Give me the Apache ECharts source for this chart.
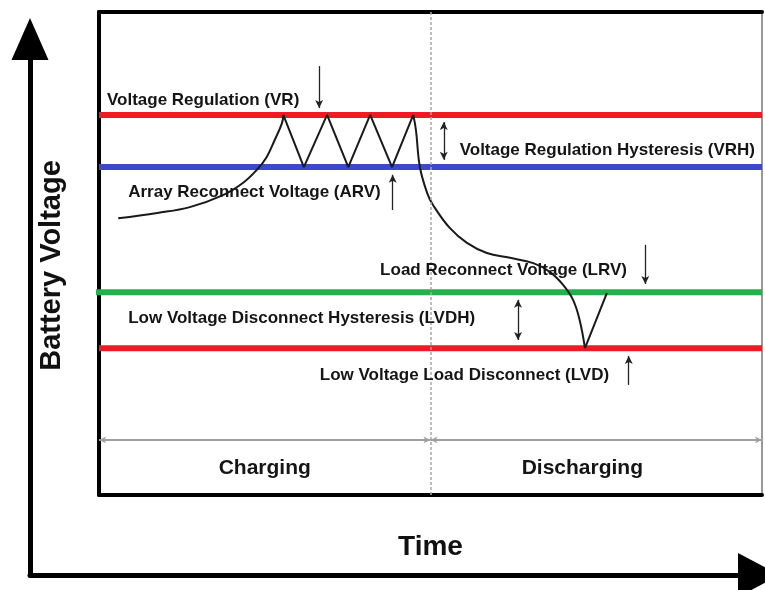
<!DOCTYPE html>
<html>
<head>
<meta charset="utf-8">
<script src="https://cdn.jsdelivr.net/npm/echarts@6/dist/echarts.min.js"></script>
<style>
html,body{margin:0;padding:0;background:#fff;}
#chart{width:765px;height:590px;}
</style>
</head>
<body>
<div id="chart"></div>
<script>
// ---------- data (schematic units: x = time 0..100, y = battery voltage 0..100) ----------
const thresholdKeys   = ['VR', 'ARV', 'LRV', 'LVD'];
const thresholdValues = [78.7, 67.9, 42.0, 30.4];
const thresholdStartX = [0, 0, -0.9, 0];

const chargeX = [2.9, 8.8, 13.7, 18.7, 21.7, 23.8, 25.3, 26.5, 27.6, 27.8];
const chargeY = [57.3, 58.4, 59.6, 62.1, 64.6, 67.3, 70.0, 73.5, 77.0, 78.7];

const cycleX = [27.8, 30.9, 34.4, 37.6, 40.9, 44.2, 47.4];
const cycleY = [78.7, 67.9, 78.7, 67.9, 78.7, 67.9, 78.7];

const dischargeX = [47.4, 47.8, 48.4, 49.5, 50.4, 52.9, 55.5, 58.5, 62.0, 65.5, 68.0, 70.0, 71.5, 72.5, 73.3];
const dischargeY = [78.7, 75.6, 67.9, 62.5, 60.0, 55.3, 52.2, 50.1, 49.1, 48.0, 46.2, 43.5, 40.4, 36.2, 30.4];

const recoverX = [73.3, 76.6];
const recoverY = [30.4, 41.8];

const phaseNames    = ['Charging', 'Discharging'];
const phaseLabelX   = [25.0, 72.9];
const phaseLabelY   = [5.6, 5.6];
const phaseBoundary = 50;
const phaseDividerY = 11.4;

const annoTexts = [
  'Voltage Regulation (VR)',
  'Array Reconnect Voltage (ARV)',
  'Voltage Regulation Hysteresis (VRH)',
  'Load Reconnect Voltage (LRV)',
  'Low Voltage Disconnect Hysteresis (LVDH)',
  'Low Voltage Load Disconnect (LVD)'
];
const annoX = [1.2, 4.4, 54.4, 42.4, 4.4, 33.3];
const annoY = [81.8, 62.7, 71.4, 46.6, 36.6, 24.8];

const arrowX    = [33.2, 44.3, 52.0, 82.4, 63.2, 79.9];
const arrowFrom = [88.8, 59.0, 77.2, 51.8, 40.4, 22.8];
const arrowTo   = [80.1, 66.3, 69.4, 43.7, 32.1, 28.8];
const arrowBoth = [false, false, true, false, true, false];

// ---------- styling ----------
const FONT = "'Liberation Sans', Arial, Helvetica, sans-serif";
const TXT = '#151515';
const lineColors = { VR: '#ED1C24', ARV: '#3F48CC', LRV: '#22B14C', LVD: '#ED1C24' };

const zip = (xs, ys) => xs.map((x, i) => [x, ys[i]]);

const series = [];

// threshold lines
thresholdKeys.forEach((k, i) => {
  series.push({
    type: 'line', name: k,
    data: [[thresholdStartX[i], thresholdValues[i]], [100, thresholdValues[i]]],
    symbol: 'none', clip: false, silent: true, z: 2,
    lineStyle: { color: lineColors[k], width: 6, cap: 'butt' }
  });
});

const curveStyle = { color: '#1a1a1a', width: 2 };
series.push({ type: 'line', data: zip(chargeX, chargeY), smooth: 0.4, symbol: 'none', silent: true, z: 3, lineStyle: curveStyle });
series.push({ type: 'line', data: zip(cycleX, cycleY), smooth: false, symbol: 'none', silent: true, z: 3, lineStyle: curveStyle });
series.push({ type: 'line', data: zip(dischargeX, dischargeY), smooth: 0.4, symbol: 'none', silent: true, z: 3, lineStyle: curveStyle });
series.push({ type: 'line', data: zip(recoverX, recoverY), smooth: false, symbol: 'none', silent: true, z: 3, lineStyle: curveStyle });

// phase boundary (dotted), phase divider with arrows, annotation arrows
series.push({
  type: 'line', data: [], silent: true, z: 1,
  markLine: {
    silent: true, animation: false, label: { show: false },
    symbol: ['none', 'none'],
    lineStyle: { color: '#a8a8a8', width: 1.5, type: [3, 2] },
    data: [[{ coord: [phaseBoundary, 0] }, { coord: [phaseBoundary, 100] }]]
  }
});
series.push({
  type: 'line', data: [], silent: true, z: 1,
  markLine: {
    silent: true, animation: false, label: { show: false },
    symbol: ['arrow', 'arrow'], symbolSize: [5, 7],
    lineStyle: { color: '#a0a0a0', width: 2, type: 'solid' },
    data: [
      [{ coord: [0, phaseDividerY] }, { coord: [phaseBoundary, phaseDividerY] }],
      [{ coord: [phaseBoundary, phaseDividerY] }, { coord: [100, phaseDividerY] }]
    ]
  }
});
series.push({
  type: 'line', data: [], silent: true, z: 4,
  markLine: {
    silent: true, animation: false, label: { show: false },
    symbolSize: [6, 8],
    lineStyle: { color: '#222', width: 1.3, type: 'solid' },
    data: arrowX.map((x, i) => [
      { coord: [x, arrowFrom[i]], symbol: arrowBoth[i] ? 'arrow' : 'none' },
      { coord: [x, arrowTo[i]], symbol: 'arrow' }
    ])
  }
});

// annotation texts
series.push({
  type: 'scatter', silent: true, z: 5, symbolSize: 0,
  itemStyle: { opacity: 1 },
  data: annoTexts.map((t, i) => ({ name: t, value: [annoX[i], annoY[i]] })),
  label: {
    show: true, position: [0, 0], align: 'left', verticalAlign: 'middle', opacity: 1,
    formatter: p => p.name,
    fontFamily: FONT, fontWeight: 'bold', fontSize: 17, color: TXT
  }
});
// phase texts
series.push({
  type: 'scatter', silent: true, z: 5, symbolSize: 0,
  itemStyle: { opacity: 1 },
  data: phaseNames.map((t, i) => ({ name: t, value: [phaseLabelX[i], phaseLabelY[i]] })),
  label: {
    show: true, position: [0, 0], align: 'center', verticalAlign: 'middle', opacity: 1,
    formatter: p => p.name,
    fontFamily: FONT, fontWeight: 'bold', fontSize: 21, color: TXT
  }
});

const hidden = { axisTick: { show: false }, axisLabel: { show: false }, splitLine: { show: false } };

const option = {
  animation: false,
  backgroundColor: '#ffffff',
  grid: [
    { left: 99, right: 3, top: 12, bottom: 95 },
    { left: 30, right: 6, top: 39, bottom: 15 }
  ],
  xAxis: [
    Object.assign({
      type: 'value', gridIndex: 0, min: 0, max: 100, position: 'bottom',
      axisLine: { show: true, onZero: false, lineStyle: { color: '#000', width: 4 } },
      name: 'Time', nameLocation: 'middle', nameGap: 38,
      nameTextStyle: { fontFamily: FONT, fontWeight: 'bold', fontSize: 28, color: '#111' }
    }, hidden),
    Object.assign({
      type: 'value', gridIndex: 0, min: 0, max: 100, position: 'top',
      axisLine: { show: true, onZero: false, lineStyle: { color: '#000', width: 4 } }
    }, hidden),
    Object.assign({
      type: 'value', gridIndex: 1, min: 0, max: 100,
      axisLine: { show: true, onZero: false, symbol: ['none', 'triangle'], symbolSize: [44, 42],
        lineStyle: { color: '#000', width: 5 } }
    }, hidden)
  ],
  yAxis: [
    Object.assign({
      type: 'value', gridIndex: 0, min: 0, max: 100, position: 'left',
      axisLine: { show: true, onZero: false, lineStyle: { color: '#000', width: 4 } },
      name: 'Battery Voltage', nameLocation: 'middle', nameGap: 33, nameRotate: 90,
      nameTextStyle: { fontFamily: FONT, fontWeight: 'bold', fontSize: 29, color: '#111', padding: [0, 24, 0, 0] }
    }, hidden),
    Object.assign({
      type: 'value', gridIndex: 0, min: 0, max: 100, position: 'right',
      axisLine: { show: true, onZero: false, lineStyle: { color: '#777', width: 1.5 } }
    }, hidden),
    Object.assign({
      type: 'value', gridIndex: 1, min: 0, max: 100,
      axisLine: { show: true, onZero: false, symbol: ['none', 'triangle'], symbolSize: [37, 42],
        lineStyle: { color: '#000', width: 5 } }
    }, hidden)
  ],
  series: series.map(s => Object.assign({ xAxisIndex: 0, yAxisIndex: 0 }, s))
};

const chart = echarts.init(document.getElementById('chart'), null, { renderer: 'canvas' });
chart.setOption(option);
</script>
</body>
</html>
